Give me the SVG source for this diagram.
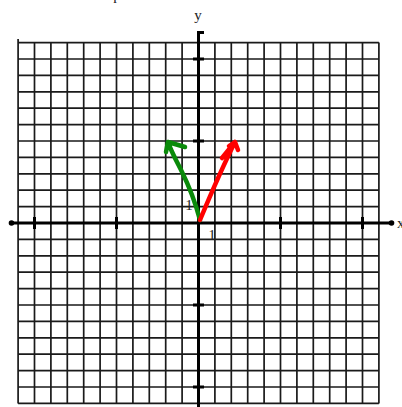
<svg xmlns="http://www.w3.org/2000/svg" width="402" height="407" viewBox="0 0 402 407">
<style>
.grid{fill:none;stroke:#1a1a1a;stroke-width:1.7}
.axis{fill:none;stroke:#000;stroke-width:3}
.tick{fill:none;stroke:#000;stroke-width:3}
.lbl{font-family:"Liberation Serif",serif;font-size:15px;fill:#222}
.vec{fill:none;stroke-width:4.5;stroke-linecap:round;stroke-linejoin:round}
</style>
<rect width="402" height="407" fill="#fff"/>
<g id="grid">
<path class="grid" d="M18.1 39V403.4M34.5 42.6V403.4M50.9 42.6V403.4M67.3 42.6V403.4M83.7 42.6V403.4M100.1 42.6V403.4M116.5 42.6V403.4M132.9 42.6V403.4M149.3 42.6V403.4M165.7 42.6V403.4M182.1 42.6V403.4M214.9 42.6V403.4M231.3 42.6V403.4M247.7 42.6V403.4M264.1 42.6V403.4M280.5 42.6V403.4M296.9 42.6V403.4M313.3 42.6V403.4M329.7 42.6V403.4M346.1 42.6V403.4M362.5 42.6V403.4M378.9 42.6V403.4"/>
<path class="grid" d="M18.1 42.6H378.9M18.1 59H378.9M18.1 75.4H378.9M18.1 91.8H378.9M18.1 108.2H378.9M18.1 124.6H378.9M18.1 141H378.9M18.1 157.4H378.9M18.1 173.8H378.9M18.1 190.2H378.9M18.1 206.6H378.9M18.1 239.4H378.9M18.1 255.8H378.9M18.1 272.2H378.9M18.1 288.6H378.9M18.1 305H378.9M18.1 321.4H378.9M18.1 337.8H378.9M18.1 354.2H378.9M18.1 370.6H378.9M18.1 387H378.9M18.1 403.4H378.9"/>
</g>
<g id="axes">
<path class="axis" d="M11 223H392"/>
<path class="axis" d="M198.5 407V32.5H204"/>
<circle cx="11.5" cy="223" r="2.8" fill="#000"/>
<circle cx="391.5" cy="223" r="2.8" fill="#000"/>
<path class="tick" d="M34.5 217V229M116.5 217V229M280.5 217V229M362.5 217V229M193 59H204M193 141H204M193 305H204M193 387H204"/>
</g>
<g id="labels">
<text class="lbl" x="117" y="-0.5" text-anchor="middle">p</text>
<text class="lbl" x="198" y="20" text-anchor="middle">y</text>
<text class="lbl" x="397" y="228">x</text>
<text class="lbl" x="212" y="240" text-anchor="middle" font-size="13">1</text>
<text class="lbl" x="189" y="210" text-anchor="middle" font-size="13" fill="#5a3a6a">1</text>
</g>
<g id="connectors">
<path id="green-vector" class="vec" stroke="#0a8a0a" d="M200 220C196 205 190 188 182 172C176 160 171 151 168 142M168 142L185 147M168 142L166 152"/>
<path id="red-vector" class="vec" stroke="#ff0000" d="M200 220C210 196 222 168 235 142M235 142L222 158M235 142L238 150M235 142L229 146"/>
</g>
</svg>
